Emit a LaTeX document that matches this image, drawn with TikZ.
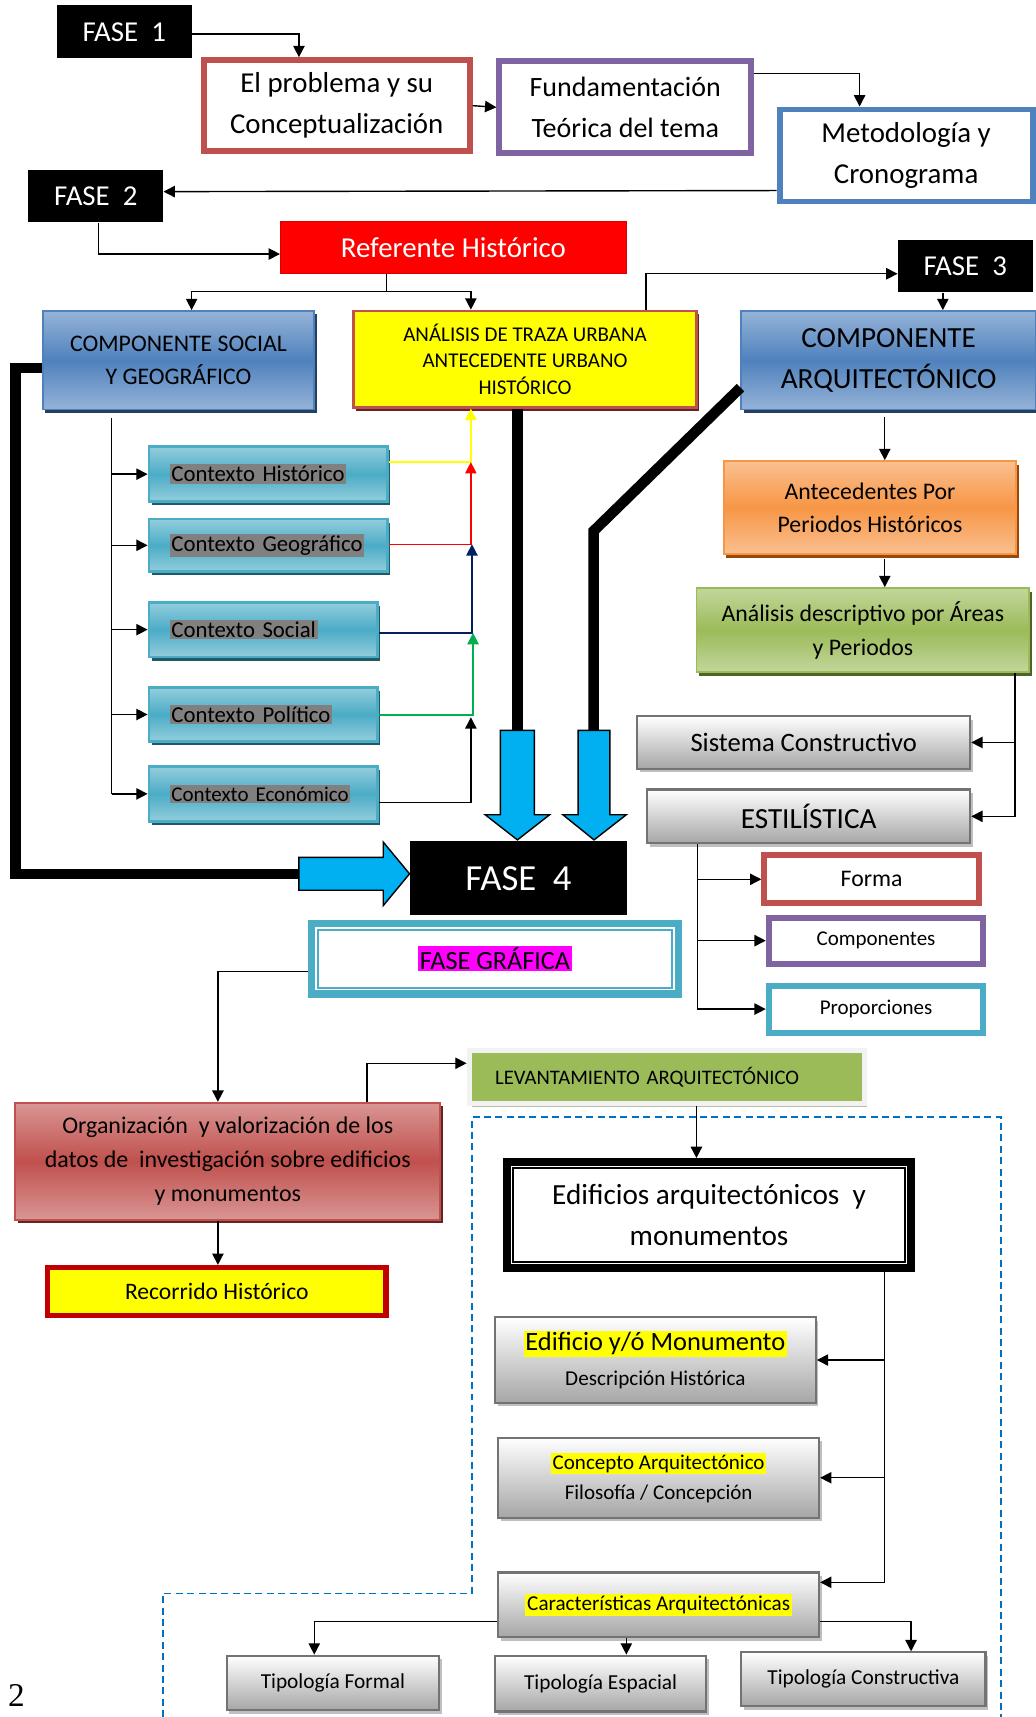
\documentclass[tikz,border=0pt]{standalone}
\usepackage{fontspec}
\setmainfont{Carlito}
\newfontfamily\serifa{Liberation Serif}
\usetikzlibrary{arrows.meta,calc,shadows}

\definecolor{rojoborde}{HTML}{C0504D}
\definecolor{morado}{HTML}{8064A2}
\definecolor{azul}{HTML}{4F81BD}
\definecolor{azulclaro}{HTML}{95B3D7}
\definecolor{azuloscuro}{HTML}{243F60}
\definecolor{turquesa}{HTML}{4BACC6}
\definecolor{turquesaclaro}{HTML}{93CDDD}
\definecolor{turquesaoscuro}{HTML}{215968}
\definecolor{naranja}{HTML}{F79646}
\definecolor{naranjaclaro}{HTML}{FAC090}
\definecolor{naranjaoscuro}{HTML}{984807}
\definecolor{verde}{HTML}{9BBB59}
\definecolor{verdeclaro}{HTML}{C3D69B}
\definecolor{verdeoscuro}{HTML}{4F6228}
\definecolor{rojoclaro}{HTML}{D99694}
\definecolor{rojooscuro}{HTML}{632423}
\definecolor{granate}{HTML}{C00000}
\definecolor{celeste}{HTML}{00B0F0}
\definecolor{marino}{HTML}{002060}
\definecolor{verdeflecha}{HTML}{00B050}
\definecolor{guion}{HTML}{0070C0}
\definecolor{resalte}{HTML}{808080}
\definecolor{fucsia}{HTML}{FF00FF}
\definecolor{amarillo}{HTML}{FFFF00}

\newcommand{\tam}[2]{\fontsize{#1}{#2}\selectfont}
\newcommand{\resaltar}[2]{{\setlength{\fboxsep}{1pt}\colorbox{#1}{#2}}}

\begin{document}
\begin{tikzpicture}[
    x=0.022cm, y=-0.022cm,
    fase/.style={fill=black, text=white, minimum width=2.706cm, minimum height=1.056cm, font=\tam{16.5}{20}},
    marco/.style={draw=#1, line width=3.4pt, fill=white, align=center},
    sombra/.style={drop shadow={fill=#1, opacity=1, shadow xshift=1.5pt, shadow yshift=-2pt}},
    azulbox/.style={draw=azul, line width=1pt, top color=azulclaro, bottom color=azulclaro, middle color=azul, sombra=azuloscuro, align=center},
    ctx/.style={draw=turquesa, line width=1.5pt, top color=turquesaclaro, bottom color=turquesaclaro, middle color=turquesa, sombra=turquesaoscuro, align=left, font=\tam{13}{16}},
    naranjabox/.style={draw=naranja, line width=1pt, top color=naranjaclaro, bottom color=naranjaclaro, middle color=naranja, sombra=naranjaoscuro, align=center},
    verdebox/.style={draw=verde, line width=1pt, top color=verdeclaro, bottom color=verdeclaro, middle color=verde, sombra=verdeoscuro, align=center},
    rojobox/.style={draw=rojoborde, line width=1pt, top color=rojoclaro, bottom color=rojoclaro, middle color=rojoborde, sombra=rojooscuro, align=center},
    grisbox/.style={draw=black!55, line width=1.2pt, top color=white, bottom color=black!35, sombra=black!25, align=center},
    tipo/.style={grisbox, font=\tam{12.2}{15}},
    flecha/.style={-{Triangle[length=6.5pt,width=6.5pt]}, line width=0.8pt},
    grueso/.style={line width=6pt, line join=miter},
    bloque/.style={draw, line width=0.8pt, fill=celeste},
    guiones/.style={draw=guion, line width=0.8pt, dash pattern=on 4pt off 2.5pt}
  ]
  \useasboundingbox (0,0) rectangle (946,1568);

  % zona punteada del levantamiento
  \draw[guiones] (149,1568) |- (431,1455) |- (914,1020) -- (914,1568);

  % fases 1 y 2
  \node[fase] (fase1) at (113.5,29) {FASE~ 1};
  \node[marco=rojoborde, minimum width=5.346cm, minimum height=1.826cm, font=\tam{16.5}{23.5}] (problema) at (307.5,96.5) {El problema y su\\Conceptualización};
  \node[marco=morado, minimum width=5.06cm, minimum height=1.848cm, font=\tam{16}{23}] (fundam) at (571,98) {Fundamentación\\Teórica del tema};
  \node[marco=azul, minimum width=5.082cm, minimum height=1.848cm, font=\tam{16.5}{23}] (metod) at (827.5,142) {Metodología y\\Cronograma};
  \node[fase] (fase2) at (87.5,179) {FASE~ 2};
  \node[fill=red, draw=red!85!black, text=white, minimum width=6.952cm, minimum height=1.056cm, font=\tam{16.5}{20}] (referente) at (414,226) {Referente Histórico};
  \node[azulbox, minimum width=5.456cm, minimum height=1.98cm, font=\tam{13.6}{18.7}] (social) at (163,329) {COMPONENTE SOCIAL\\Y GEOGRÁFICO};
  \node[draw=rojoborde, line width=1.5pt, fill=amarillo, sombra=rojooscuro, align=center, minimum width=6.886cm, minimum height=1.936cm, font=\tam{12}{15}] (analisis) at (479.5,328) {ANÁLISIS DE TRAZA URBANA\\ANTECEDENTE URBANO\\HISTÓRICO};

  % contextos
  \node[ctx, minimum width=4.796cm, text width=3.96cm, minimum height=1.1cm] (ctxhist) at (245,433) {\resaltar{resalte}{Contexto Histórico}};
  \node[ctx, minimum width=4.796cm, text width=3.96cm, minimum height=1.056cm] (ctxgeo) at (245,498) {\resaltar{resalte}{Contexto Geográfico}};
  \node[ctx, minimum width=4.598cm, text width=3.762cm, minimum height=1.1cm] (ctxsoc) at (240.5,575) {\resaltar{resalte}{Contexto Social}};
  \node[ctx, minimum width=4.598cm, text width=3.762cm, minimum height=1.078cm] (ctxpol) at (240.5,652.5) {\resaltar{resalte}{Contexto Político}};
  \node[ctx, minimum width=4.598cm, text width=3.762cm, minimum height=1.1cm, font=\tam{12}{15}] (ctxeco) at (240.5,725) {\resaltar{resalte}{Contexto Económico}};

  % fase 3
  \node[fase] (fase3) at (881.5,243) {FASE~ 3};
  \node[azulbox, minimum width=5.918cm, minimum height=1.98cm, font=\tam{16.7}{23.7}] (arq) at (811.5,329) {COMPONENTE\\ARQUITECTÓNICO};
  \node[naranjabox, minimum width=5.874cm, minimum height=1.87cm, font=\tam{13.6}{18.7}] (antec) at (794.5,463.5) {Antecedentes Por\\Periodos Históricos};
  \node[verdebox, minimum width=6.688cm, minimum height=1.694cm, font=\tam{13.6}{19.3}] (descr) at (788,575.5) {Análisis descriptivo por Áreas\\y Periodos};
  \node[grisbox, minimum width=6.688cm, minimum height=1.056cm, font=\tam{15.2}{18}] (sistema) at (734,678) {Sistema Constructivo};
  \node[grisbox, minimum width=6.49cm, minimum height=1.078cm, font=\tam{16.7}{20}] (estil) at (738.5,745.5) {ESTILÍSTICA};
  \node[marco=rojoborde, minimum width=4.312cm, minimum height=0.968cm, font=\tam{13.6}{16}] (forma) at (796,803) {Forma};
  \node[marco=morado, minimum width=4.312cm, minimum height=0.924cm, font=\tam{12}{15}] (compon) at (800,859) {Componentes};
  \node[marco=turquesa, minimum width=4.312cm, minimum height=0.946cm, font=\tam{12}{15}] (propor) at (800,921.5) {Proporciones};

  % fase 4
  \node[fill=black, text=white, minimum width=4.378cm, minimum height=1.496cm, font=\tam{21}{25}] (fase4) at (473.5,802) {FASE~ 4};
  \node[draw=turquesa, line width=4.3pt, fill=white, minimum width=7.37cm, minimum height=1.408cm, font=\tam{15}{18}] (grafica) at (452,875.5) {\resaltar{fucsia}{FASE GRÁFICA}};
  \draw[turquesa, line width=1.2pt] ($(grafica.north west)+(9,9)$) rectangle ($(grafica.south east)+(-9,-9)$);
  \node[draw=black!5, line width=3pt, fill=verde, sombra=verdeoscuro!40, minimum width=7.942cm, minimum height=1.056cm, text width=6.9cm, align=left, font=\tam{11.8}{14}] (levant) at (609,983.5) {LEVANTAMIENTO ARQUITECTÓNICO};
  \node[rojobox, minimum width=8.536cm, minimum height=2.354cm, font=\tam{13.7}{19.3}] (organiz) at (208,1060.5) {Organización~ y valorización de los\\datos de~ investigación sobre edificios\\y monumentos};
  \node[draw=granate, line width=3pt, fill=amarillo, minimum width=6.798cm, minimum height=0.968cm, font=\tam{13.5}{16}] (recorr) at (198,1179.5) {Recorrido Histórico};
  \node[draw, line width=4.3pt, fill=white, align=center, minimum width=8.118cm, minimum height=2.134cm, font=\tam{16.7}{23.7}] (edif) at (647.5,1109.5) {Edificios arquitectónicos~ y\\monumentos};
  \draw[line width=0.9pt] ($(edif.north west)+(9,9)$) rectangle ($(edif.south east)+(-9,-9)$);
  \node[grisbox, minimum width=6.446cm, minimum height=1.716cm, font=\tam{12.1}{20}] (edmon) at (598.5,1242) {{\tam{15.1}{18}\resaltar{amarillo}{Edificio y/ó Monumento}}\\Descripción Histórica};
  \node[grisbox, minimum width=6.446cm, minimum height=1.606cm, font=\tam{12}{17}] (concep) at (601.5,1349.5) {\resaltar{amarillo}{Concepto Arquitectónico}\\Filosofía / Concepción};
  \node[grisbox, minimum width=6.446cm, minimum height=1.298cm, font=\tam{12.1}{15}] (caract) at (601.5,1465.5) {\resaltar{amarillo}{Características Arquitectónicas}};
  \node[tipo, minimum width=4.268cm, minimum height=1.1cm] (tipform) at (304,1537) {Tipología Formal};
  \node[tipo, minimum width=4.246cm, minimum height=1.122cm] (tipesp) at (548.5,1537.5) {Tipología Espacial};
  \node[tipo, minimum width=4.906cm, minimum height=1.078cm] (tipcons) at (788.5,1533.5) {Tipología Constructiva};
  \node[anchor=south west, inner sep=0pt, font=\serifa\tam{19}{23}] (pagina) at (7,1559) {2};

  % flechas de bloque hacia la fase 4
  \coordinate (colaA) at (472.5,667);
  \coordinate (colaB) at (542,667);
  \coordinate (colaC) at (273,798);
  \draw[bloque] (457,667) -- (488,667) -- (488,744) -- (502,744) -- (472.5,767) -- (443,744) -- (457,744) -- cycle;
  \draw[bloque] (528,667) -- (557,667) -- (557,744) -- (572,744) -- (542.5,767) -- (514,744) -- (528,744) -- cycle;
  \draw[bloque] (273,783) -- (350,783) -- (350,769) -- (374,798) -- (350,827) -- (350,813) -- (273,813) -- cycle;
  \draw[grueso] (analisis.south -| 472.5,0) -- (colaA);
  \draw[grueso] (arq.west |- 0,354) -- (542,485) -- (colaB);
  \draw[grueso] (social.west |- 0,336) -| (14,798) -- (colaC);

  % conectores superiores
  \draw[flecha] (fase1.east |- 0,31) -| (problema.north -| 273,0);
  \draw[flecha] (problema.east) -- (fundam.west);
  \draw[flecha] (fundam.east |- 0,67) -| (metod.north -| 785,0);
  \draw[flecha] (metod.west |- 0,174) -- (fase2.east |- 0,175);
  \draw[flecha] (fase2.south -| 90,0) |- (referente.west |- 0,232);
  \coordinate (rama) at (353,266);
  \draw (referente.south -| rama) -- (rama);
  \draw[flecha] (rama) -| (social.north -| 175,0);
  \draw[flecha] (rama) -| (analisis.north -| 430,0);
  \draw[flecha] (analisis.north -| 590,0) |- (fase3.west |- 0,250);
  \draw[flecha] (fase3.south -| 861,0) -- (arq.north -| 861,0);

  % contextos
  \draw ($(social.south -| 102,0)+(0,7)$) -- (ctxeco.west -| 102,0);
  \foreach \n in {ctxhist,ctxgeo,ctxsoc,ctxpol,ctxeco}
    \draw[flecha] (\n.west -| 102,0) -- (\n.west);
  \coordinate (unionA) at (430,422);
  \coordinate (unionB) at (431,497);
  \coordinate (unionC) at (432,578);
  \coordinate (unionD) at (430,655);
  \draw[flecha, amarillo] (ctxhist.east |- unionA) -| (analisis.south -| 430,0);
  \draw[flecha, red] (ctxgeo.east |- unionB) -| (unionA);
  \draw[flecha, marino] (ctxsoc.east |- unionC) -| (unionB);
  \draw[flecha, verdeflecha] (ctxpol.east |- 0,653) -| (unionC);
  \draw[flecha] (ctxeco.east |- 0,733) -| (unionD);

  % componente arquitectonico
  \draw[flecha] ($(arq.south -| 808,0)+(0,6)$) -- (antec.north -| 808,0);
  \draw[flecha] ($(antec.south -| 808,0)+(0,4)$) -- (descr.north -| 808,0);
  \draw[flecha] (descr.south -| 927,0) |- (estil.east);
  \draw[flecha] (sistema.east -| 927,0) -- (sistema.east);
  \draw[flecha] (estil.south -| 637,0) |- (propor.west);
  \foreach \n in {forma,compon}
    \draw[flecha] (\n.west -| 637,0) -- (\n.west);

  % fase grafica
  \draw[flecha] (grafica.west |- 0,887) -| (organiz.north -| 199,0);
  \draw[flecha] (organiz.north -| 335,0) |- (levant.west |- 0,971);
  \draw[flecha] (organiz.south -| 199,0) -- (recorr.north -| 199,0);
  \draw[flecha] (levant.south -| 636,0) -- (edif.north -| 636,0);
  \draw[flecha] (edif.south -| 808,0) |- (caract.east |- 0,1445);
  \foreach \n in {edmon,concep}
    \draw[flecha] (\n.east -| 808,0) -- (\n.east);
  \draw[flecha] (caract.west |- 0,1481) -| (tipform.north -| 287,0);
  \draw[flecha] (caract.south -| 572,0) -- (tipesp.north -| 572,0);
  \draw[flecha] (caract.east |- 0,1481) -| (tipcons.north -| 832,0);

\end{tikzpicture}
\end{document}
